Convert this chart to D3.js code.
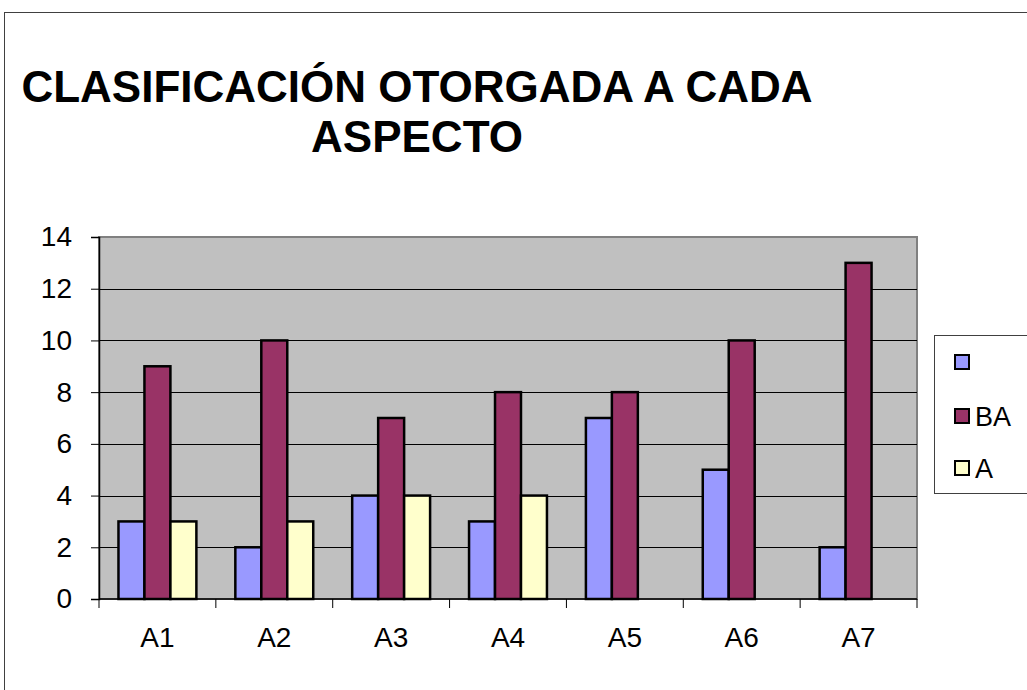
<!DOCTYPE html>
<html>
<head>
  <meta charset="utf-8" />
  <title>Clasificación otorgada a cada aspecto</title>
  <style>
    body { margin: 0; background: white; }
    svg { font-family: Arial, "Liberation Sans", sans-serif; }
  </style>
</head>
<body>
  <svg id="chart" width="1027" height="690"></svg>
  <script src="https://cdn.jsdelivr.net/npm/d3@7"></script>
  <script>
    var categories = ["A1", "A2", "A3", "A4", "A5", "A6", "A7"];
    var seriesNames = ["", "BA", "A"];
    var seriesBlue = [3, 2, 4, 3, 7, 5, 2];
    var seriesBA = [9, 10, 7, 8, 8, 10, 13];
    var seriesA = [3, 3, 4, 4, null, null, null];
    var yTicks = [0, 2, 4, 6, 8, 10, 12, 14];
    var colors = ["#9999FF", "#993366", "#FFFFCC"];

    var allSeries = [seriesBlue, seriesBA, seriesA];
    var svg = d3.select('#chart');

    // outer chart border (runs off the right and bottom edge)
    svg.append('rect')
      .attr('x', 4.5).attr('y', 12.5)
      .attr('width', 1030).attr('height', 700)
      .attr('fill', 'none').attr('stroke', '#404040').attr('stroke-width', 1);

    // title
    var title = svg.append('text')
      .attr('text-anchor', 'middle')
      .attr('font-size', 44).attr('font-weight', 'bold');
    title.append('tspan').attr('x', 417).attr('y', 102).text('CLASIFICACIÓN OTORGADA A CADA');
    title.append('tspan').attr('x', 417).attr('y', 152).text('ASPECTO');

    var pLeft = 99, pRight = 917, pTop = 237, pBottom = 599;

    var x = d3.scaleBand().domain(categories).range([pLeft, pRight]).paddingInner(1 / 3).paddingOuter(1 / 6);
    var xAxisScale = d3.scaleBand().domain(categories).range([pLeft, pRight]);
    var xs = d3.scaleBand().domain(d3.range(allSeries.length)).range([0, x.bandwidth()]);
    var y = d3.scaleLinear().domain([0, 14]).range([pBottom, pTop]);

    // plot background
    svg.append('rect')
      .attr('x', pLeft).attr('y', pTop)
      .attr('width', pRight - pLeft).attr('height', pBottom - pTop)
      .attr('fill', '#C0C0C0').attr('stroke', '#808080').attr('stroke-width', 2);

    // gridlines
    svg.append('g').selectAll('line')
      .data(yTicks.filter(function (d) { return d > 0 && d < 14; }))
      .join('line')
      .attr('x1', pLeft).attr('x2', pRight)
      .attr('y1', function (d) { return Math.round(y(d)) + 0.5; })
      .attr('y2', function (d) { return Math.round(y(d)) + 0.5; })
      .attr('stroke', 'black').attr('stroke-width', 1);

    // bars
    allSeries.forEach(function (values, si) {
      svg.append('g').selectAll('rect')
        .data(values.map(function (v, i) { return { cat: categories[i], v: v }; }).filter(function (d) { return d.v != null; }))
        .join('rect')
        .attr('x', function (d) { return x(d.cat) + xs(si); })
        .attr('y', function (d) { return y(d.v); })
        .attr('width', xs.bandwidth())
        .attr('height', function (d) { return y(0) - y(d.v); })
        .attr('fill', colors[si])
        .attr('stroke', 'black').attr('stroke-width', 2.5);
    });

    // y axis
    var yAxis = svg.append('g')
      .attr('transform', 'translate(' + pLeft + ',0)')
      .call(d3.axisLeft(y).tickValues(yTicks).tickSize(8).tickPadding(19));
    yAxis.select('.domain').attr('stroke', 'black').attr('stroke-width', 1.5);
    yAxis.selectAll('.tick line').attr('stroke', 'black');
    yAxis.selectAll('text').attr('font-size', 28).attr('fill', 'black').attr('font-family', 'Arial, "Liberation Sans", sans-serif');

    // x axis with ticks at category boundaries
    var xAxis = svg.append('g').attr('transform', 'translate(0,' + pBottom + ')');
    xAxis.append('line').attr('x1', pLeft).attr('x2', pRight).attr('stroke', 'black').attr('stroke-width', 1.5);
    var boundaries = categories.map(function (c) { return xAxisScale(c); }).concat([pRight]);
    xAxis.selectAll('line.tick').data(boundaries).join('line')
      .attr('class', 'tick')
      .attr('x1', function (d) { return d; }).attr('x2', function (d) { return d; })
      .attr('y1', 0).attr('y2', 9)
      .attr('stroke', 'black');
    xAxis.selectAll('text').data(categories).join('text')
      .attr('x', function (d) { return xAxisScale(d) + xAxisScale.bandwidth() / 2; })
      .attr('y', 48)
      .attr('text-anchor', 'middle')
      .attr('font-size', 28)
      .text(function (d) { return d; });

    // legend (box runs to the right edge)
    var legend = svg.append('g');
    legend.append('rect')
      .attr('x', 934.5).attr('y', 335.5).attr('width', 100).attr('height', 158)
      .attr('fill', 'white').attr('stroke', '#404040');
    var rowY = [362, 416, 468];
    seriesNames.forEach(function (name, i) {
      legend.append('rect')
        .attr('x', 955).attr('y', rowY[i] - 7).attr('width', 14).attr('height', 14)
        .attr('fill', colors[i]).attr('stroke', 'black').attr('stroke-width', 2);
      legend.append('text')
        .attr('x', 975).attr('y', rowY[i] + 10)
        .attr('font-size', 27)
        .text(name);
    });
  </script>
</body>
</html>
